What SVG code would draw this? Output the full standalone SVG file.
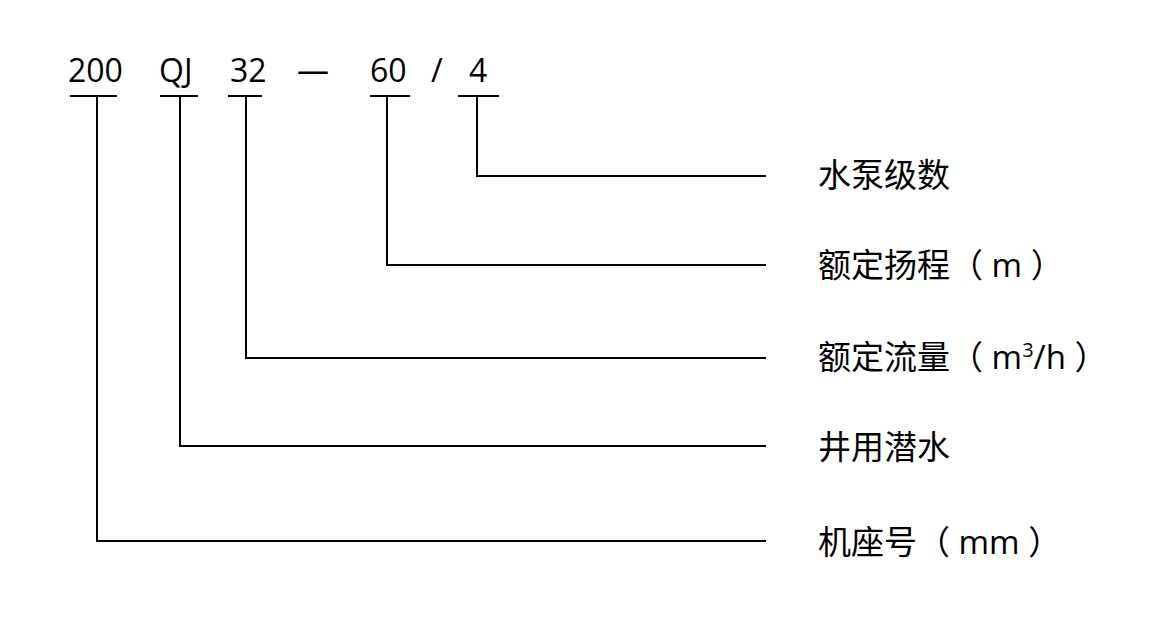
<svg xmlns="http://www.w3.org/2000/svg" width="1173" height="628" viewBox="0 0 1173 628">
<style>
text{font-family:"Open Sans","Noto Sans CJK SC",sans-serif;font-size:32px;fill:#000}
.lb{font-size:33px}
.l{fill:none;stroke:#000;stroke-width:2}
</style>
<rect width="1173" height="628" fill="#fff"/>
<g id="code">
<text x="68" y="82">200</text>
<text x="159" y="82">QJ</text>
<text x="230" y="82">32</text>
<text x="297" y="82">—</text>
<text x="370" y="82">60</text>
<text x="431" y="82">/</text>
<text x="469" y="82">4</text>
</g>
<g id="connectors">
<path class="l" d="M70 96H117M160 96H198M228 96H262M370 96H410M458 96H499"/>
<path class="l" d="M97 96V541H766M180 96V446H766M246 96V358H766M387 96V265H766M477 96V176H766"/>
</g>
<g id="n1"><text class="lb" x="818" y="187">水泵级数</text></g>
<g id="n2"><text class="lb" x="818" y="277">额定扬程（ m ）</text></g>
<g id="n3"><text class="lb" x="818" y="369">额定流量（ m<tspan font-size="20" dy="-12">3</tspan><tspan dy="12">/h ）</tspan></text></g>
<g id="n4"><text class="lb" x="818" y="459">井用潜水</text></g>
<g id="n5"><text class="lb" x="818" y="554">机座号（ mm ）</text></g>
</svg>
